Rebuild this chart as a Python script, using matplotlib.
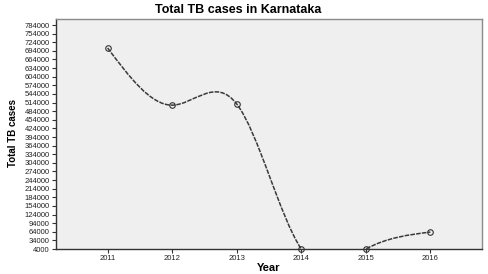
import numpy as np
import matplotlib
matplotlib.use("Agg")
import matplotlib.pyplot as plt
from matplotlib.path import Path
from matplotlib.patches import PathPatch

# valeurs
annees = [2011, 2012, 2013, 2014, 2015, 2016]
cas_tb = [704000, 505000, 509000, 4000, 4000, 63000]
graduations_y = list(range(4000, 784001, 30000))

plt.rcParams["font.family"] = ["Liberation Sans", "DejaVu Sans"]


def spline_naturelle(x, y):
    """Pentes d'une spline cubique naturelle (pour tracer avec des courbes de Bezier)."""
    x = np.asarray(x, float)
    y = np.asarray(y, float)
    n = len(x)
    h = np.diff(x)
    A = np.zeros((n, n))
    b = np.zeros(n)
    A[0, 0] = A[-1, -1] = 1
    for i in range(1, n - 1):
        A[i, i - 1] = h[i - 1]
        A[i, i] = 2 * (h[i - 1] + h[i])
        A[i, i + 1] = h[i]
        b[i] = 6 * ((y[i + 1] - y[i]) / h[i] - (y[i] - y[i - 1]) / h[i - 1])
    M = np.linalg.solve(A, b)
    pentes = np.zeros(n)
    for i in range(n - 1):
        pentes[i] = (y[i + 1] - y[i]) / h[i] - h[i] * (2 * M[i] + M[i + 1]) / 6
    pentes[-1] = (y[-1] - y[-2]) / h[-1] + h[-1] * (M[-2] + 2 * M[-1]) / 6
    return x, y, pentes


fig = plt.figure(figsize=(4.89, 2.74), dpi=100)
ax = fig.add_axes([56 / 489, 1 - 249 / 274, 426 / 489, 230 / 274])
ax.set_facecolor("#efefef")

# courbe lissée
x, y, m = spline_naturelle(annees, cas_tb)
sommets = [(x[0], y[0])]
codes = [Path.MOVETO]
for i in range(len(x) - 1):
    h = x[i + 1] - x[i]
    sommets += [(x[i] + h / 3, y[i] + m[i] * h / 3),
                (x[i + 1] - h / 3, y[i + 1] - m[i + 1] * h / 3),
                (x[i + 1], y[i + 1])]
    codes += [Path.CURVE4] * 3
courbe = PathPatch(Path(sommets, codes), facecolor="none", edgecolor="#3a3a3a",
                   linewidth=1.1, linestyle=(0, (3, 0.8)))
ax.add_patch(courbe)

ax.plot(annees, cas_tb, linestyle="none", marker="o", markersize=4,
        markerfacecolor="none", markeredgecolor="#333333", markeredgewidth=0.8,
        clip_on=False, zorder=3)

ax.set_xlim(2010.2, 2016.8)
ax.set_ylim(4000, 805000)
ax.set_xticks(annees)
ax.set_xticklabels([str(a) for a in annees])
ax.set_yticks(graduations_y)
ax.set_yticklabels([str(v) for v in graduations_y])
ax.tick_params(axis="both", labelsize=5.5, length=3, width=0.8, color="#333333",
               labelcolor="#222222", pad=1.5)

for cote in ["top", "right"]:
    ax.spines[cote].set_color("#8a8a8a")
    ax.spines[cote].set_linewidth(1.0)
for cote in ["left", "bottom"]:
    ax.spines[cote].set_color("#333333")
    ax.spines[cote].set_linewidth(1.0)

fig.text(238 / 489, 1 - 10 / 274, "Total TB cases in Karnataka", ha="center", va="center",
         fontsize=9, fontweight="bold")
fig.text(269 / 489, 1 - 268 / 274, "Year", ha="center", va="center",
         fontsize=8, fontweight="bold")
fig.text(13 / 489, 1 - 133 / 274, "Total TB cases", ha="center", va="center",
         rotation=90, fontsize=7, fontweight="bold")

fig.savefig("out.png", dpi=100)
